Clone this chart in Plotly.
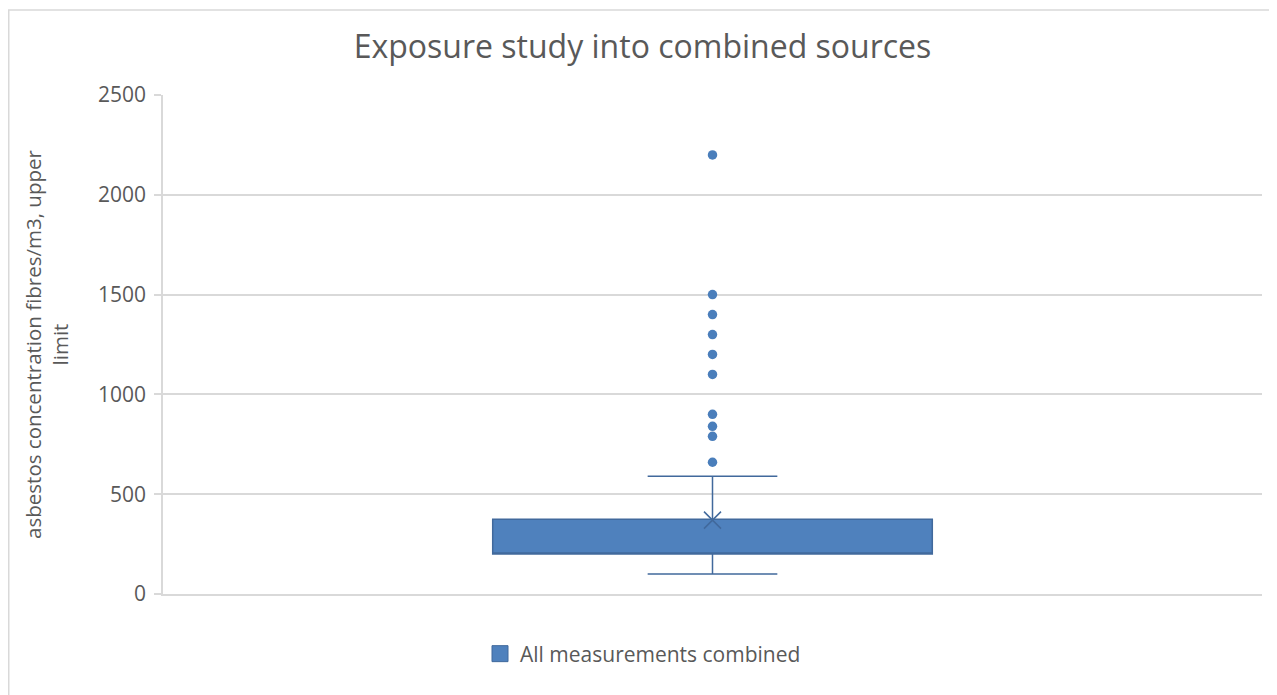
import plotly.graph_objects as go

# Data
category = ["All measurements combined"]
q1 = [200]
median = [200]
q3 = [375]
lower_whisker = [100]
upper_whisker = [590]
mean_value = [370]
outliers = [660, 790, 840, 900, 1100, 1200, 1300, 1400, 1500, 2200]

y_ticks = [0, 500, 1000, 1500, 2000, 2500]

blue = "#4f81bd"
edge = "#41699c"
text_grey = "#595959"
grid_grey = "#d9d9d9"
font_family = "'Open Sans', sans-serif"

W, H = 1269, 687
ML, MR, MT, MB = 155, 15, 87, 101
PW, PH = W - ML - MR, H - MT - MB

fig = go.Figure()

fig.add_trace(go.Box(
    x=[0],
    q1=q1, median=median, q3=q3,
    lowerfence=lower_whisker, upperfence=upper_whisker,
    name=category[0],
    width=0.4,
    whiskerwidth=0.295,
    fillcolor=blue,
    line=dict(color=edge, width=1.5),
    showlegend=False,
    boxpoints=False,
))

fig.add_trace(go.Scatter(
    x=[0] * len(outliers), y=outliers,
    mode="markers",
    marker=dict(color="#4a7ebb", size=9.5, symbol="circle"),
    showlegend=False,
    hoverinfo="y",
))

fig.add_trace(go.Scatter(
    x=[0], y=mean_value,
    mode="markers",
    marker=dict(symbol="x-thin-open", size=17, color=edge,
                line=dict(color=edge, width=1.5)),
    showlegend=False,
))

# legend entry
fig.add_trace(go.Scatter(
    x=[None], y=[None],
    mode="markers",
    name=category[0],
    marker=dict(symbol="square", size=19, color=blue, line=dict(color=edge, width=1)),
    showlegend=True,
))

fig.update_layout(
    width=W, height=H,
    paper_bgcolor="white", plot_bgcolor="white",
    margin=dict(l=ML, r=MR, t=MT, b=MB),
    title=dict(
        text="Exposure study into combined sources",
        x=0.5, xanchor="center", y=1 - 39 / H, yanchor="middle",
        font=dict(family=font_family, size=32, color=text_grey),
    ),
    font=dict(family=font_family, color=text_grey),
    legend=dict(
        orientation="h", x=(635 - ML) / PW, xanchor="center",
        y=(PH + MT - 646) / PH, yanchor="middle",
        font=dict(family=font_family, size=21, color=text_grey),
        itemwidth=30,
    ),
    xaxis=dict(
        range=[-0.5, 0.5],
        showticklabels=False, showgrid=False, zeroline=False,
        showline=True, linecolor=grid_grey, linewidth=1.5,
        fixedrange=True,
    ),
    yaxis=dict(
        range=[0, 2500],
        tickvals=y_ticks,
        ticktext=[str(v) for v in y_ticks],
        showgrid=True, gridcolor=grid_grey, gridwidth=1.5,
        zeroline=False,
        showline=True, linecolor=grid_grey, linewidth=1.5,
        ticks="outside", ticklen=7, tickcolor=grid_grey, tickwidth=1.5,
        ticklabelstandoff=4,
        tickfont=dict(family=font_family, size=21, color=text_grey),
        title=dict(
            text="asbestos concentration fibres/m3, upper<br>limit",
            font=dict(family=font_family, size=20.5, color=text_grey),
            standoff=24,
        ),
    ),
    shapes=[dict(
        type="rect", xref="paper", yref="paper",
        x0=(0.75 - ML) / PW, x1=(1268 - ML) / PW,
        y0=(MT + PH - 720) / PH, y1=1 + (MT - 2) / PH,
        line=dict(color=grid_grey, width=1.5), fillcolor="rgba(0,0,0,0)",
        layer="below",
    )],
)

fig.write_html("out.html")
